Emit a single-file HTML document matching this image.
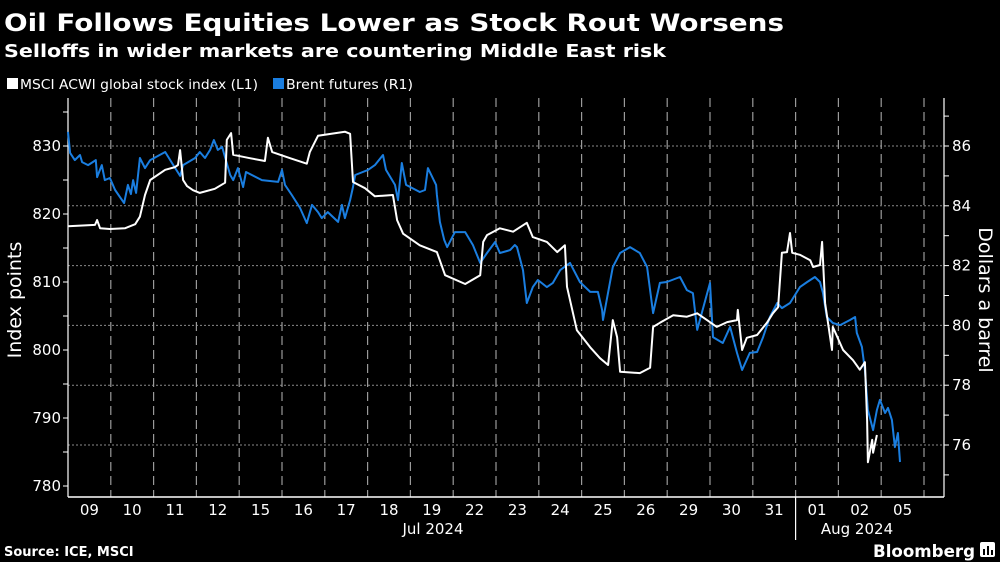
<!DOCTYPE html>
<html><head><meta charset="utf-8"><style>
html,body{margin:0;padding:0;background:#000;}
svg{display:block;font-family:"DejaVu Sans","Liberation Sans",sans-serif;}
</style></head><body>
<svg id="chart" width="1000" height="562" viewBox="0 0 1000 562" xmlns="http://www.w3.org/2000/svg">
<rect x="0" y="0" width="1000" height="562" fill="#000"/>
<text x="4" y="31" fill="#fff" font-weight="bold" font-size="24" textLength="780" lengthAdjust="spacingAndGlyphs">Oil Follows Equities Lower as Stock Rout Worsens</text>
<text x="4" y="57" fill="#fff" font-weight="bold" font-size="18" textLength="662" lengthAdjust="spacingAndGlyphs">Selloffs in wider markets are countering Middle East risk</text>
<g>
<g><rect x="7" y="78" width="11" height="11" fill="#fff"/><text x="20" y="89" fill="#fff" font-size="13" textLength="238" lengthAdjust="spacingAndGlyphs">MSCI ACWI global stock index (L1)</text></g>
<g><rect x="273" y="78" width="11" height="11" fill="#1a7ee0"/><text x="286" y="89" fill="#fff" font-size="13" textLength="127" lengthAdjust="spacingAndGlyphs">Brent futures (R1)</text></g>
</g>
<g id="grid"></g>
<g id="axes"></g>
<g id="series"></g>
<text transform="translate(21,300) rotate(-90)" text-anchor="middle" fill="#fff" font-size="19">Index points</text>
<text transform="translate(979,300) rotate(90)" text-anchor="middle" fill="#fff" font-size="19">Dollars a barrel</text>
<text x="4" y="556" fill="#fff" font-weight="bold" font-size="13">Source: ICE, MSCI</text>
<text x="873" y="557" fill="#fff" font-weight="bold" font-size="17" textLength="102" lengthAdjust="spacingAndGlyphs">Bloomberg</text>
<g><rect x="980" y="542" width="15" height="15" rx="2" fill="#fff"/><rect x="983" y="549" width="2" height="6" fill="#000"/><rect x="987" y="546" width="2" height="9" fill="#000"/><rect x="991" y="550" width="2" height="5" fill="#000"/></g>
</svg>
<script>
const dayLabels=["09","10","11","12","15","16","17","18","19","22","23","24","25","26","29","30","31","01","02","05"];
const monthLabels=["Jul 2024","Aug 2024"];
const leftTicks=[780,790,800,810,820,830];
const rightTicks=[76,78,80,82,84,86];
const msciT=[0,0.63,0.68,0.75,0.98,1.33,1.57,1.68,1.80,1.92,2.27,2.50,2.57,2.62,2.69,2.78,2.92,3.08,3.43,3.67,3.71,3.81,3.86,4.25,4.60,4.67,4.77,5.19,5.58,5.65,5.84,6.47,6.59,6.66,6.94,7.17,7.59,7.69,7.83,8.22,8.62,8.81,9.28,9.63,9.70,9.79,10.09,10.40,10.72,10.86,11.19,11.43,11.61,11.66,11.89,12.20,12.43,12.62,12.73,12.83,12.90,13.36,13.60,13.67,13.83,14.14,14.46,14.70,14.93,15.16,15.40,15.63,15.65,15.75,15.86,16.10,16.33,16.47,16.59,16.68,16.80,16.87,16.92,17.10,17.34,17.41,17.57,17.62,17.69,17.85,17.87,18.11,18.34,18.50,18.62,18.67,18.69,18.79,18.81,18.90];
const msciV=[818.2,818.4,819.1,817.9,817.8,817.9,818.5,819.6,822.8,825.0,826.5,826.9,827.2,829.4,825.0,824.1,823.5,823.1,823.7,824.6,830.9,831.9,828.7,828.2,827.8,831.2,829.1,828.2,827.4,829.1,831.5,832.1,831.8,824.7,823.8,822.6,822.8,819.1,817.1,815.4,814.4,811.0,809.7,811.0,815.9,816.9,817.9,817.4,818.7,816.6,815.9,814.4,815.4,809.3,802.9,800.4,798.8,797.8,804.4,801.9,796.8,796.6,797.4,803.4,804.0,805.1,804.9,805.4,804.4,803.4,804.1,804.4,805.9,800.0,801.8,802.2,804.0,805.4,806.3,814.3,814.4,817.2,814.3,814.0,813.2,812.2,812.5,815.9,806.9,800.0,803.4,800.0,798.5,797.1,798.2,789.7,783.5,786.8,784.9,787.5];
const brentT=[0,0.05,0.16,0.28,0.33,0.47,0.65,0.68,0.79,0.86,0.98,1.10,1.31,1.40,1.47,1.52,1.59,1.68,1.80,1.92,2.27,2.43,2.62,2.69,2.97,3.08,3.20,3.32,3.41,3.50,3.60,3.69,3.79,3.86,3.97,4.09,4.16,4.53,4.91,5.00,5.07,5.23,5.42,5.58,5.70,5.84,5.93,6.07,6.31,6.40,6.47,6.59,6.66,6.71,7.01,7.17,7.36,7.43,7.64,7.71,7.80,7.90,8.22,8.34,8.41,8.60,8.62,8.69,8.79,8.86,9.04,9.28,9.46,9.63,9.79,9.98,10.09,10.33,10.44,10.49,10.63,10.72,10.86,10.98,11.19,11.33,11.50,11.73,11.96,12.20,12.38,12.48,12.50,12.73,12.90,13.13,13.36,13.53,13.67,13.83,13.99,14.30,14.46,14.60,14.70,15.00,15.07,15.30,15.47,15.63,15.75,15.93,16.10,16.24,16.40,16.57,16.68,16.87,17.10,17.27,17.45,17.57,17.64,17.73,17.87,18.04,18.27,18.39,18.43,18.55,18.62,18.69,18.81,18.90,18.97,19.09,19.16,19.25,19.32,19.39,19.44];
const brentV=[86.47,85.77,85.53,85.70,85.46,85.36,85.53,84.96,85.36,84.86,84.93,84.53,84.09,84.70,84.39,84.86,84.43,85.60,85.26,85.53,85.80,85.43,85.00,85.36,85.60,85.80,85.60,85.87,86.20,85.87,85.97,85.53,85.03,84.86,85.26,84.63,85.13,84.86,84.80,85.20,84.70,84.36,83.93,83.42,84.03,83.79,83.59,83.79,83.46,84.03,83.59,84.19,84.63,85.03,85.20,85.36,85.70,85.20,84.70,84.19,85.43,84.70,84.46,84.53,85.26,84.70,84.36,83.46,82.86,82.62,83.12,83.12,82.69,82.09,82.42,82.79,82.42,82.52,82.69,82.62,81.85,80.75,81.28,81.52,81.28,81.42,81.85,82.09,81.45,81.12,81.12,80.52,80.18,81.95,82.42,82.62,82.42,81.95,80.41,81.42,81.45,81.62,81.18,81.08,79.85,81.42,79.61,79.41,79.95,79.08,78.51,79.08,79.11,79.61,80.28,80.75,80.58,80.75,81.28,81.45,81.62,81.45,81.08,80.28,80.08,80.01,80.18,80.28,79.75,79.28,78.51,77.17,76.50,77.17,77.51,77.07,77.24,76.84,75.93,76.40,75.43];

const PL=68,PR=944,PT=98,PB=497,DAY=42.8;
const xS=t=>PL+t*DAY;
const yL=v=>146+(830-v)*6.8;
const yR=v=>146+(86-v)*29.9;
const NS="http://www.w3.org/2000/svg";
function mk(tag,parent,attrs){const e=document.createElementNS(NS,tag);for(const k in attrs)e.setAttribute(k,attrs[k]);parent.appendChild(e);return e;}
const grid=document.getElementById('grid'),axes=document.getElementById('axes'),series=document.getElementById('series');

rightTicks.forEach(v=>{
  const l=mk('line',grid,{x1:PL,x2:PR,y1:yR(v),y2:yR(v),stroke:'#8a8a8a','stroke-width':1,'stroke-dasharray':'2 2'});
  
  
});
for(let i=1;i<=dayLabels.length;i++){
  const x=xS(i);
  if(dayLabels[i]==="01"){
    const s=mk('line',axes,{x1:x,x2:x,y1:PB,y2:540,stroke:'#fff','stroke-width':1.2});
    
    
  }
  const l=mk('line',grid,{x1:x,x2:x,y1:PT,y2:PB,stroke:'#9a9a9a','stroke-width':1.2,'stroke-dasharray':'9 5'});
  
  
}
dayLabels.forEach((d,i)=>{
  const t=mk('text',axes,{x:xS(i+0.5),y:515,fill:'#fff','font-size':15,'text-anchor':'middle'});
  t.textContent=d;
  
  
});
const m1=mk('text',axes,{x:433,y:534,fill:'#fff','font-size':15,'text-anchor':'middle'});m1.textContent=monthLabels[0];


const m2=mk('text',axes,{x:857,y:534,fill:'#fff','font-size':15,'text-anchor':'middle'});m2.textContent=monthLabels[1];



for(let v=780;v<=835;v+=5){
  const tk=mk('line',axes,{x1:PL-5,x2:PL,y1:yL(v),y2:yL(v),stroke:'#fff','stroke-width':1});
  
  
}
leftTicks.forEach(v=>{
  const t=mk('text',axes,{x:PL-7,y:yL(v)+5,fill:'#fff','font-size':15,'text-anchor':'end'});t.textContent=v;
  
  
});
for(let v=75;v<=87;v++){
  const tk=mk('line',axes,{x1:PR,x2:PR+5,y1:yR(v),y2:yR(v),stroke:'#fff','stroke-width':1});
  
  
}
rightTicks.forEach(v=>{
  const t=mk('text',axes,{x:PR+8,y:yR(v)+5,fill:'#fff','font-size':15}) ;t.textContent=v;
  
  
});
const la=mk('line',axes,{x1:PL,x2:PL,y1:PT,y2:PB,stroke:'#fff','stroke-width':1.2});


const ra=mk('line',axes,{x1:PR,x2:PR,y1:PT,y2:PB,stroke:'#fff','stroke-width':1.2});


const ba=mk('line',axes,{x1:PL,x2:PR,y1:PB,y2:PB,stroke:'#fff','stroke-width':1.5});



const bp=mk('polyline',series,{points:brentT.map((t,i)=>xS(t).toFixed(1)+','+yR(brentV[i]).toFixed(1)).join(' '),fill:'none',stroke:'#1a7ee0','stroke-width':2,'stroke-linejoin':'round'});


const wp=mk('polyline',series,{points:msciT.map((t,i)=>xS(t).toFixed(1)+','+yL(msciV[i]).toFixed(1)).join(' '),fill:'none',stroke:'#fff','stroke-width':2,'stroke-linejoin':'round'});


</script>
</body></html>
